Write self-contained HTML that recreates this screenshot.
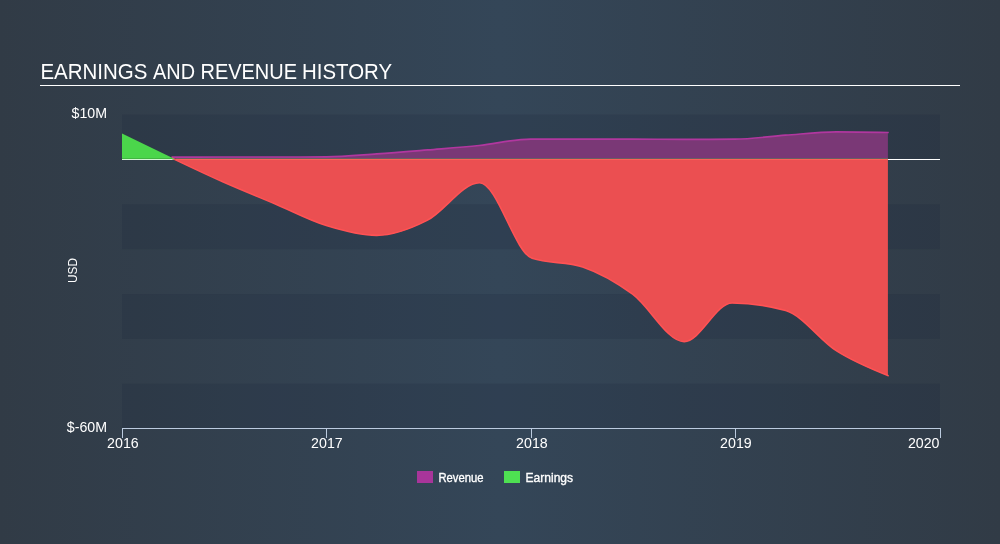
<!DOCTYPE html>
<html><head><meta charset="utf-8"><title>Earnings and Revenue History</title>
<style>
html,body{margin:0;padding:0;background:#323d4a;}
body{width:1000px;height:544px;overflow:hidden;}
svg{display:block}
text{font-family:"Liberation Sans",sans-serif;fill:#fff}
</style></head><body>
<svg width="1000" height="544" viewBox="0 0 1000 544">
<defs>
<linearGradient id="bg" x1="0" y1="0" x2="1" y2="0">
<stop offset="0" stop-color="#313b46"/>
<stop offset="0.5" stop-color="#344658"/>
<stop offset="1" stop-color="#313b46"/>
</linearGradient>
</defs>
<rect width="1000" height="544" fill="url(#bg)"/>
<text font-size="22.8" y="79.1"><tspan x="40.4" textLength="107" lengthAdjust="spacingAndGlyphs">EARNINGS</tspan> <tspan x="153" textLength="42" lengthAdjust="spacingAndGlyphs">AND</tspan> <tspan x="200.5" textLength="96.5" lengthAdjust="spacingAndGlyphs">REVENUE</tspan> <tspan x="302" textLength="90" lengthAdjust="spacingAndGlyphs">HISTORY</tspan></text>
<rect x="40" y="85" width="920" height="1" fill="#fff"/>
<rect x="122" y="114.60" width="818" height="44.86" fill="#1b2738" fill-opacity="0.19"/>
<rect x="122" y="204.31" width="818" height="44.86" fill="#1b2738" fill-opacity="0.19"/>
<rect x="122" y="294.03" width="818" height="44.86" fill="#1b2738" fill-opacity="0.19"/>
<rect x="122" y="383.74" width="818" height="44.86" fill="#1b2738" fill-opacity="0.19"/>

<rect x="122" y="159" width="818" height="1" fill="#fff"/>
<path d="M172.40,157.10C189.37,157.05,206.33,157.00,223.30,157.00C240.50,157.00,257.70,157.00,274.90,157.00C292.07,157.00,309.23,156.97,326.40,156.90C343.20,156.83,360.00,155.06,376.80,153.90C393.77,152.73,410.73,151.29,427.70,149.90C444.87,148.49,462.03,147.30,479.20,145.50C496.37,143.70,513.53,139.10,530.70,139.10C547.50,139.10,564.30,139.20,581.10,139.20C598.10,139.20,615.10,139.20,632.10,139.20C649.27,139.20,666.43,139.30,683.60,139.30C700.77,139.30,717.93,139.27,735.10,139.20C751.90,139.13,768.70,136.41,785.50,135.20C802.47,133.98,819.43,131.90,836.40,131.90C853.57,131.90,870.73,132.20,887.90,132.50L887.90,159.50L172.40,159.50Z" fill="#7a3876"/>
<path d="M172.40,157.10C189.37,157.05,206.33,157.00,223.30,157.00C240.50,157.00,257.70,157.00,274.90,157.00C292.07,157.00,309.23,156.97,326.40,156.90C343.20,156.83,360.00,155.06,376.80,153.90C393.77,152.73,410.73,151.29,427.70,149.90C444.87,148.49,462.03,147.30,479.20,145.50C496.37,143.70,513.53,139.10,530.70,139.10C547.50,139.10,564.30,139.20,581.10,139.20C598.10,139.20,615.10,139.20,632.10,139.20C649.27,139.20,666.43,139.30,683.60,139.30C700.77,139.30,717.93,139.27,735.10,139.20C751.90,139.13,768.70,136.41,785.50,135.20C802.47,133.98,819.43,131.90,836.40,131.90C853.57,131.90,870.73,132.20,887.90,132.50" fill="none" stroke="#b1379f" stroke-width="1.7" stroke-linecap="square"/>
<path d="M172.40,158.40C189.37,166.49,206.33,174.57,223.30,182.10C240.47,189.72,257.63,196.55,274.80,203.80C291.97,211.05,309.13,220.32,326.30,225.60C343.10,230.77,359.90,235.40,376.70,235.40C393.50,235.40,410.30,228.84,427.10,220.40C444.60,211.60,462.10,182.80,479.60,182.80C497.10,182.80,514.60,252.35,532.10,258.30C548.97,264.03,565.83,261.17,582.70,266.90C599.33,272.55,615.97,281.96,632.60,294.10C649.80,306.65,667.00,341.60,684.20,341.60C700.13,341.60,716.07,303.00,732.00,303.00C749.87,303.00,767.73,305.50,785.60,310.50C802.60,315.26,819.60,340.07,836.60,350.90C853.70,361.80,870.80,368.70,887.90,375.60L887.90,159.00L172.40,159.00Z" fill="#eb4f51"/>
<path d="M172.40,158.40C189.37,166.49,206.33,174.57,223.30,182.10C240.47,189.72,257.63,196.55,274.80,203.80C291.97,211.05,309.13,220.32,326.30,225.60C343.10,230.77,359.90,235.40,376.70,235.40C393.50,235.40,410.30,228.84,427.10,220.40C444.60,211.60,462.10,182.80,479.60,182.80C497.10,182.80,514.60,252.35,532.10,258.30C548.97,264.03,565.83,261.17,582.70,266.90C599.33,272.55,615.97,281.96,632.60,294.10C649.80,306.65,667.00,341.60,684.20,341.60C700.13,341.60,716.07,303.00,732.00,303.00C749.87,303.00,767.73,305.50,785.60,310.50C802.60,315.26,819.60,340.07,836.60,350.90C853.70,361.80,870.80,368.70,887.90,375.60" fill="none" stroke="#ff5254" stroke-width="1.6" stroke-linecap="square"/>
<rect x="176" y="158.3" width="712" height="0.7" fill="#66705a"/>
<rect x="176" y="159" width="712" height="1" fill="#ff6058"/>
<path d="M122,133.6L175.2,159.2L122,159.2Z" fill="#4bd64b"/>
<rect x="122" y="158.2" width="50" height="0.8" fill="#3fae3f"/>
<rect x="122" y="428" width="819" height="1" fill="#bccbdf"/>
<rect x="122" y="428" width="1" height="10" fill="#bccbdf"/>
<rect x="326" y="428" width="1" height="10" fill="#bccbdf"/>
<rect x="531" y="428" width="1" height="10" fill="#bccbdf"/>
<rect x="735" y="428" width="1" height="10" fill="#bccbdf"/>
<rect x="940" y="428" width="1" height="10" fill="#bccbdf"/>

<g font-size="14.2">
<text x="107" y="118.3" text-anchor="end">$10M</text>
<text x="107" y="431.5" text-anchor="end">$-60M</text>
<text x="122.9" y="448" text-anchor="middle">2016</text>
<text x="326.9" y="448" text-anchor="middle">2017</text>
<text x="531.9" y="448" text-anchor="middle">2018</text>
<text x="735.9" y="448" text-anchor="middle">2019</text>
<text x="939.5" y="448" text-anchor="end">2020</text>
</g>
<text transform="translate(77 283) rotate(-90)" font-size="13" textLength="25" lengthAdjust="spacingAndGlyphs">USD</text>
<rect x="417" y="471" width="16" height="12" fill="#a8359a"/>
<text x="438.5" y="482" font-size="13" textLength="45" lengthAdjust="spacingAndGlyphs" stroke="#fff" stroke-width="0.35">Revenue</text>
<rect x="504" y="471" width="16" height="12" fill="#4ee052"/>
<text x="525.5" y="482" font-size="13" textLength="47.6" lengthAdjust="spacingAndGlyphs" stroke="#fff" stroke-width="0.35">Earnings</text>
</svg>
</body></html>
